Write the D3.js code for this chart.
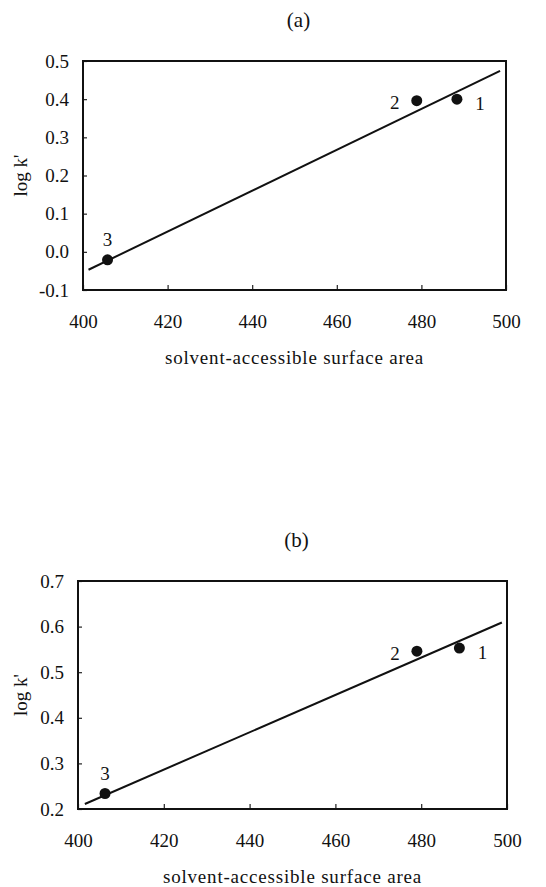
<!DOCTYPE html>
<html>
<head>
<meta charset="utf-8">
<script src="https://cdn.jsdelivr.net/npm/d3@7"></script>
<style>
  body { margin: 0; background: #fff; }
  svg text { font-family: "Liberation Serif", "Times New Roman", serif; fill: #111; }
</style>
</head>
<body>
<svg id="chart" width="546" height="887"></svg>
<script>
// data
var pointLabels = ['1', '2', '3'];
var areaA = [488.4, 478.9, 405.8];
var logkA = [0.400, 0.396, -0.021];
var areaB = [488.9, 479.0, 406.3];
var logkB = [0.553, 0.546, 0.234];
var fitAreaA = [401.3, 498.6];
var fitLogkA = [-0.047, 0.474];
var fitAreaB = [401.6, 498.8];
var fitLogkB = [0.211, 0.609];
var xTicks = [400, 420, 440, 460, 480, 500];
var yTicksA = [-0.1, 0.0, 0.1, 0.2, 0.3, 0.4, 0.5];
var yTicksB = [0.2, 0.3, 0.4, 0.5, 0.6, 0.7];

var svg = d3.select('#chart');

var drawPanel = function (p) {
  var x = d3.scaleLinear().domain([400, 500]).range([p.left, p.right]);
  var y = d3.scaleLinear().domain(d3.extent(p.yTicks)).range([p.bottom, p.top]);
  var g = svg.append('g');
  var mid = (p.left + p.right) / 2;

  // title
  g.append('text')
    .attr('x', mid + 4).attr('y', p.top - 41)
    .attr('text-anchor', 'middle').attr('dy', '0.35em')
    .attr('font-size', 21)
    .text(p.title);

  // axes (ticks point inwards)
  var yAxis = g.append('g')
    .attr('transform', 'translate(' + p.left + ',0)')
    .call(d3.axisLeft(y).tickValues(p.yTicks).tickSize(-4).tickPadding(14)
      .tickFormat(function (d) { return d.toFixed(1); }));
  var xAxis = g.append('g')
    .attr('transform', 'translate(0,' + p.bottom + ')')
    .call(d3.axisBottom(x).tickValues(xTicks).tickSize(-5).tickPadding(31));
  [yAxis, xAxis].forEach(function (a) {
    a.select('.domain').remove();
    a.selectAll('.tick line').attr('stroke', '#222').attr('stroke-width', 1.2);
    a.selectAll('.tick text').attr('font-size', 19).attr('fill', '#111')
      .style('font-family', '"Liberation Serif", serif');
  });
  xAxis.selectAll('.tick text').attr('dy', '0.35em');

  // frame
  g.append('rect')
    .attr('x', p.left).attr('y', p.top)
    .attr('width', p.right - p.left).attr('height', p.bottom - p.top)
    .attr('fill', 'none').attr('stroke', '#111').attr('stroke-width', 2);

  // axis titles
  g.append('text')
    .attr('transform', 'translate(20,' + (p.top + p.bottom) / 2 + ') rotate(-90)')
    .attr('text-anchor', 'middle').attr('dy', '0.35em')
    .attr('font-size', 19)
    .text("log k'");
  g.append('text')
    .attr('x', mid).attr('y', p.bottom + 67)
    .attr('text-anchor', 'middle').attr('dy', '0.35em')
    .attr('font-size', 19).attr('letter-spacing', 0.8)
    .text('solvent-accessible surface area');

  // fitted line
  var fit = p.fitX.map(function (v, i) { return [v, p.fitY[i]]; });
  g.append('path')
    .datum(fit)
    .attr('fill', 'none').attr('stroke', '#111').attr('stroke-width', 2)
    .attr('d', d3.line().x(function (d) { return x(d[0]); }).y(function (d) { return y(d[1]); }));

  // points + labels
  var pts = p.xs.map(function (v, i) { return { x: v, y: p.ys[i], label: pointLabels[i] }; });
  g.selectAll('circle')
    .data(pts).enter().append('circle')
    .attr('cx', function (d) { return x(d.x); })
    .attr('cy', function (d) { return y(d.y); })
    .attr('r', 5.5)
    .attr('fill', '#111');
  var offsets = { '1': [23, 4], '2': [-22, 2], '3': [0, -20] };
  g.selectAll('text.lbl')
    .data(pts).enter().append('text')
    .attr('class', 'lbl')
    .attr('x', function (d) { return x(d.x) + offsets[d.label][0]; })
    .attr('y', function (d) { return y(d.y) + offsets[d.label][1]; })
    .attr('text-anchor', 'middle').attr('dy', '0.35em')
    .attr('font-size', 19)
    .text(function (d) { return d.label; });
};

drawPanel({ title: '(a)', left: 83, right: 506, top: 61, bottom: 290,
  xs: areaA, ys: logkA, fitX: fitAreaA, fitY: fitLogkA, yTicks: yTicksA });
drawPanel({ title: '(b)', left: 78, right: 507, top: 581, bottom: 809,
  xs: areaB, ys: logkB, fitX: fitAreaB, fitY: fitLogkB, yTicks: yTicksB });
</script>
</body>
</html>
